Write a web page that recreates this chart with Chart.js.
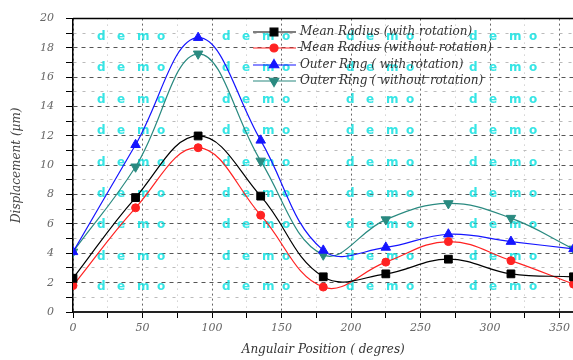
<!DOCTYPE html>
<html>
<head>
<meta charset="utf-8">
<script src="https://cdn.jsdelivr.net/npm/chart.js@4"></script>
<style>
html, body { margin: 0; padding: 0; overflow: hidden; background: #fff; }
#wrap { width: 580px; height: 360px; }
</style>
</head>
<body>
<div id="wrap"><canvas id="chart" width="580" height="360"></canvas></div>
<script>
// angular positions (degrees) and displacement values (µm)
const angles = [0, 45, 90, 135, 180, 225, 270, 315, 360];
const meanWith = [2.3, 7.8, 12.0, 7.9, 2.4, 2.6, 3.6, 2.6, 2.4];
const meanWithout = [1.8, 7.1, 11.2, 6.6, 1.7, 3.4, 4.8, 3.5, 1.9];
const outerWith = [4.1, 11.4, 18.7, 11.7, 4.2, 4.4, 5.3, 4.8, 4.3];
const outerWithout = [4.1, 9.9, 17.6, 10.3, 3.9, 6.3, 7.4, 6.4, 4.3];
const seriesNames = [
    "Mean Radius (with rotation)",
    "Mean Radius (without rotation)",
    "Outer Ring ( with rotation)",
    "Outer Ring ( without rotation)"
];
const xTicks = [0, 25, 50, 75, 100, 125, 150, 175, 200, 225, 250, 275, 300, 325, 350, 360];

const serif = "'DejaVu Serif', 'Liberation Serif', serif";

function pts(vals) {
    return angles.map((a, i) => ({ x: a, y: vals[i] }));
}

function makeSet(name, vals, color, style, radius, rot) {
    return {
        label: name,
        data: pts(vals),
        borderColor: color,
        backgroundColor: color,
        borderWidth: 1.2,
        pointStyle: style,
        pointRadius: radius,
        pointRotation: rot,
        pointBorderWidth: 1,
        tension: 0.4
    };
}

// watermark "d e m o" behind the data
const watermark = {
    id: "watermark",
    beforeDatasetsDraw(chart) {
        const ctx = chart.ctx;
        ctx.save();
        ctx.font = "bold 12px 'DejaVu Sans', sans-serif";
        ctx.fillStyle = "rgba(20, 225, 225, 0.85)";
        ctx.textBaseline = "middle";
        const rows = [37, 68, 100, 131, 163, 194, 225, 257, 287];
        const cols = [97, 222, 346, 469];
        rows.forEach(y => {
            cols.forEach(x => {
                ["d", "e", "m", "o"].forEach((ch, k) => ctx.fillText(ch, x + k * 20, y));
            });
        });
        ctx.restore();
    }
};

// legend inside the plot + top frame line
const legendInside = {
    id: "legendInside",
    afterDraw(chart) {
        const ctx = chart.ctx;
        const area = chart.chartArea;
        ctx.save();
        ctx.strokeStyle = "#000";
        ctx.lineWidth = 1.5;
        ctx.beginPath();
        ctx.moveTo(area.left, area.top);
        ctx.lineTo(area.right, area.top);
        ctx.stroke();

        const rowsY = [32, 48, 65, 81];
        ctx.font = "italic 12px " + serif;
        ctx.textBaseline = "middle";
        chart.data.datasets.forEach((ds, i) => {
            const y = rowsY[i];
            ctx.strokeStyle = ds.borderColor;
            ctx.lineWidth = 1.2;
            ctx.beginPath();
            ctx.moveTo(253, y);
            ctx.lineTo(296, y);
            ctx.stroke();
            ctx.fillStyle = ds.backgroundColor;
            Chart.helpers.drawPoint(ctx, {
                pointStyle: ds.pointStyle,
                radius: ds.pointRadius,
                rotation: ds.pointRotation,
                borderWidth: 1
            }, 274, y);
            ctx.fillStyle = "#333";
            ctx.fillText(ds.label, 300, y);
        });
        ctx.restore();
    }
};

new Chart(document.getElementById("chart"), {
    type: "line",
    data: {
        datasets: [
            makeSet(seriesNames[0], meanWith, "#000000", "rect", 5.5, 0),
            makeSet(seriesNames[1], meanWithout, "#ff2222", "circle", 4, 0),
            makeSet(seriesNames[2], outerWith, "#1515ff", "triangle", 5.5, 0),
            makeSet(seriesNames[3], outerWithout, "#2a8a80", "triangle", 5.5, 180)
        ]
    },
    options: {
        responsive: false,
        animation: false,
        devicePixelRatio: 1,
        layout: { padding: { top: 15, right: 3, left: 0, bottom: 0 } },
        plugins: {
            legend: { display: false },
            tooltip: { enabled: false }
        },
        scales: {
            x: {
                type: "linear",
                min: 0,
                max: 360,
                afterFit: s => { s.height = 48; },
                afterBuildTicks: s => { s.ticks = xTicks.map(v => ({ value: v })); },
                title: {
                    display: true,
                    text: "Angulair Position ( degres)",
                    font: { family: serif, size: 12, style: "italic" },
                    color: "#333",
                    padding: { top: 0, bottom: 3 }
                },
                ticks: {
                    autoSkip: false,
                    maxRotation: 0,
                    padding: 4,
                    color: "#666",
                    font: { family: serif, size: 11, style: "italic" },
                    callback: v => (v % 50 === 0 ? v : "")
                },
                grid: {
                    color: ctx => (ctx.tick && ctx.tick.value % 50 === 0 ? "#666" : "#bbb"),
                    lineWidth: 1,
                    tickColor: "#000",
                    tickLength: 6
                },
                border: {
                    display: true,
                    color: "#222",
                    width: 2,
                    dash: ctx => (ctx.tick ? (ctx.tick.value % 50 === 0 ? [2, 3] : [1, 5]) : [])
                }
            },
            y: {
                min: 0,
                max: 20,
                afterFit: s => { s.width = 73; },
                title: {
                    display: true,
                    text: "Displacement (µm)",
                    font: { family: serif, size: 12, style: "italic" },
                    color: "#444",
                    padding: { top: 10, bottom: 0 }
                },
                ticks: {
                    stepSize: 1,
                    autoSkip: false,
                    padding: 12,
                    color: "#666",
                    font: { family: serif, size: 11, style: "italic" },
                    callback: v => (v % 2 === 0 ? v : "")
                },
                grid: {
                    color: ctx => (ctx.tick && ctx.tick.value % 2 === 0 ? "#555" : "#bbb"),
                    lineWidth: 1,
                    tickColor: "#000",
                    tickLength: 7
                },
                border: {
                    display: true,
                    color: "#000",
                    width: 1.5,
                    dash: ctx => (ctx.tick ? (ctx.tick.value % 2 === 0 ? [4, 4] : [3, 6]) : [])
                }
            }
        }
    },
    plugins: [watermark, legendInside]
});
</script>
</body>
</html>
